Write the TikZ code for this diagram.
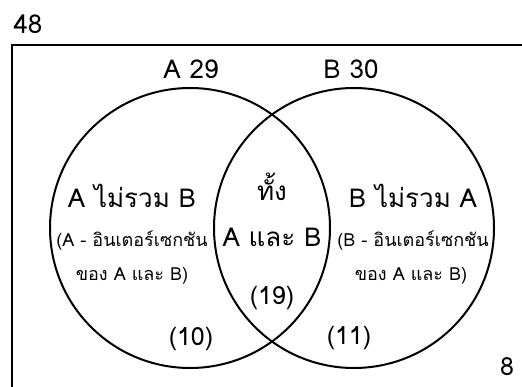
\documentclass[tikz,border=0pt]{standalone}
\usepackage{fontspec}
\setmainfont[Script=Thai]{Loma}
\tikzset{
  setcircle/.style={circle, draw, line width=2pt, minimum size=280pt, inner sep=0pt},
  big/.style={font=\fontsize{26}{28}\selectfont, inner sep=0pt, anchor=base},
  num/.style={font=\fontsize{25}{27}\selectfont, inner sep=0pt, anchor=base},
  small/.style={font=\fontsize{18}{20}\selectfont, inner sep=0pt, anchor=base},
}
\begin{document}
\begin{tikzpicture}[x=1pt,y=-1pt]
\useasboundingbox (0,0) rectangle (522,386);
\clip (0,0) rectangle (522,386);
\fill[white] (0,0) rectangle (522,386);
\draw[line width=2.2pt] (12,400) -- (12,45) -- (540,45);
\node[setcircle] (A) at (190,228) {};
\node[setcircle] (B) at (354,228) {};
\node[big] (n48) at (28,33) {48};
\node[big] (lA) at (191,78) {A 29};
\node[big] (lB) at (351,78) {B 30};
\node[num] (n8) at (507,375) {8};
\node[big] (a1) at (132,207) {A ไม่รวม B};
\node[small] (a2) at (132,246) {(A - อินเตอร์เซกชัน};
\node[small] (a3) at (132,280) {ของ A และ B)};
\node[big] (b1) at (413,207) {B ไม่รวม A};
\node[small] (b2) at (413,246) {(B - อินเตอร์เซกชัน};
\node[small] (b3) at (411,280) {ของ A และ B)};
\node[big] (c1) at (272,200) {ทั้ง};
\node[big] (c2) at (272,246) {A และ B};
\node[num] (c3) at (272,304) {(19)};
\node[num] (a4) at (191,345) {(10)};
\node[num] (b4) at (349,344) {(11)};
\end{tikzpicture}
\end{document}
